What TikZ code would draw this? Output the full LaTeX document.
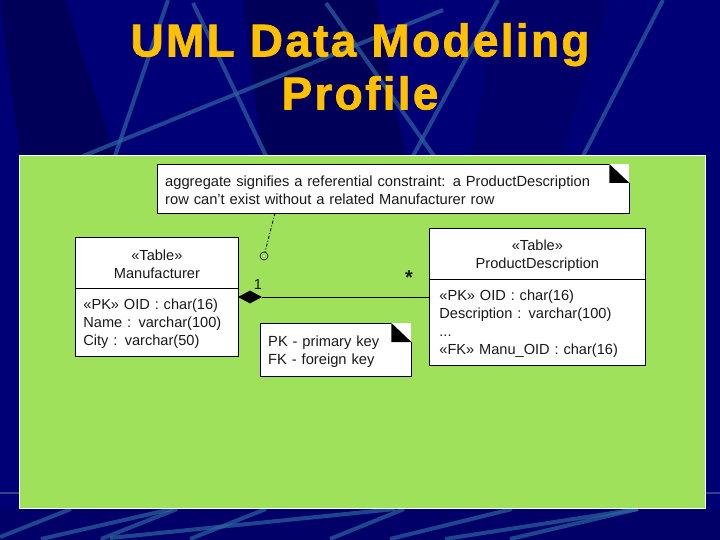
\documentclass[tikz,border=0pt]{standalone}
\usepackage{fontspec}
\setmainfont{Liberation Sans}
\usetikzlibrary{shapes.geometric}
\definecolor{slide}{RGB}{0,0,118}
\definecolor{darkband}{RGB}{0,0,88}
\definecolor{midband}{RGB}{0,0,104}
\definecolor{streak}{RGB}{44,100,160}
\definecolor{panel}{RGB}{160,225,92}
\definecolor{gold}{RGB}{255,192,0}
\definecolor{ink}{RGB}{25,25,25}
\tikzset{
  streakline/.style={streak,line width=4pt,opacity=0.7},
  umlbox/.style={draw=black,fill=white,line width=0.8pt,anchor=north west,inner sep=0pt,font=\fontsize{14.6}{18}\selectfont,text=ink,align=center,text height=14pt},
  umlbody/.style={umlbox,align=left},
  notebox/.style={fill=white,anchor=north west,inner sep=0pt,font=\fontsize{14.7}{18}\selectfont,text=ink,align=left,text height=14pt},
  mult/.style={inner sep=0pt,text=ink}
}
% note outline, with the corner turned over
\newcommand{\notefold}[1]{
  \fill[black] (#1.north east) ++(-20,0) -- ++(20,19) -- ++(-20,0) -- cycle;
  \draw[line width=0.8pt] (#1.north east) ++(-20,0) -- (#1.north west) -- (#1.south west) -- (#1.south east) -- ([yshift=-19pt]#1.north east);
}
\begin{document}
\begin{tikzpicture}[x=1pt,y=-1pt]
\useasboundingbox (0,0) rectangle (720,540);
\fill[slide] (0,0) rectangle (720,540);
% darker bands of the slide
\fill[darkband] (0,0) -- (65,0) -- (115,156) -- (20,156) -- cycle;
\fill[darkband] (243,0) -- (376,0) -- (405,156) -- (262,156) -- cycle;
\fill[midband] (500,0) -- (610,0) -- (560,156) -- (470,156) -- cycle;
\fill[midband] (0,509) -- (720,509) -- (720,540) -- (0,540) -- cycle;
\foreach \xa/\ya/\xb/\yb in {83/156/443/10,168/0/115/156,193/3/266/156,326/3/434/156,498/0/413/156,663/0/583/156,
  71/509/0/537,172/509/41/539,177/509/101/539,395/509/110/538,266/509/190/539,404/509/330/539,512/509/390/539,638/509/445/539,638/509/510/539}
  \draw[streakline] (\xa,\ya) -- (\xb,\yb);
\draw[streak!60!gray,line width=2pt,opacity=0.6] (0,493) -- (720,493);
% panel
\draw[white,fill=panel,line width=1pt] (19,156) rectangle (705,508);
\node[gold,font=\fontsize{46}{53}\bfseries\addfontfeature{LetterSpace=5,FakeBold=1.5}\selectfont,align=center,inner sep=0pt] (title) at (360,66.5) {UML Data Modeling\\Profile};
% notes
\node[notebox,text width=456pt,minimum height=49pt,inner xsep=8pt] (noteRef) at (157,164) {aggregate signifies a referential constraint: a ProductDescription\\row can't exist without a related Manufacturer row};
\notefold{noteRef}
\node[notebox,text width=135pt,minimum height=53pt,inner xsep=8pt] (noteKey) at (260,323) {PK - primary key\\FK - foreign key};
\notefold{noteKey}
% tables
\node[umlbox,text width=163pt,minimum height=51pt] (manuHead) at (75,237) {«Table»\\Manufacturer};
\node[umlbody,minimum width=163pt,minimum height=68pt,text width=147pt,inner xsep=8pt] (manuBody) at (75,288) {«PK» OID : char(16)\\Name : varchar(100)\\City : varchar(50)};
\node[umlbox,text width=216pt,minimum height=51pt] (prodHead) at (429,228) {«Table»\\ProductDescription};
\node[umlbody,minimum width=216pt,minimum height=86pt,text width=196pt,inner xsep=10pt] (prodBody) at (429,279) {«PK» OID : char(16)\\Description : varchar(100)\\...\\«FK» Manu\_OID : char(16)};
% association
\node[diamond,fill=black,inner sep=0pt,minimum width=24pt,minimum height=13pt] (aggr) at (250,297) {};
\draw[line width=0.8pt] (aggr.east) -- (aggr.east -| prodBody.west);
\node[mult,font=\fontsize{14.6}{14}\selectfont] (oneMult) at (258,284) {1};
\node[mult,font=\fontsize{20}{20}\bfseries\selectfont] (manyMult) at (409,278) {*};
% note link
\coordinate (noteFoot) at (275,213);
\node[draw=ink,circle,line width=0.7pt,inner sep=0pt,minimum size=8pt] (ring) at (264,256) {};
\draw[line width=0.9pt,dash dot] (noteFoot) -- (ring);
\end{tikzpicture}
\end{document}
